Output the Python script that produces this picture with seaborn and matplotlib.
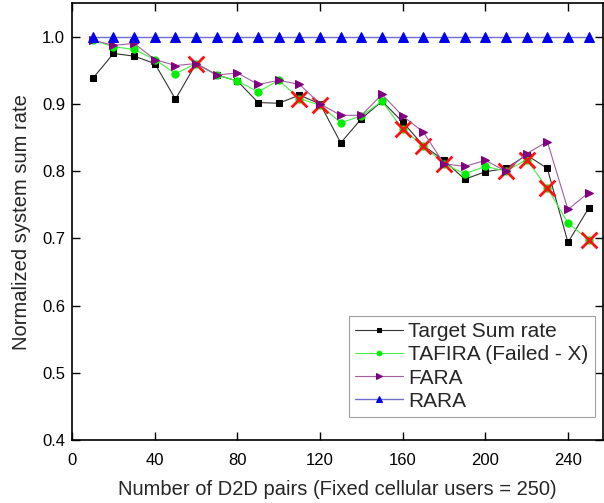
import numpy as np
import pandas as pd
import matplotlib
matplotlib.use("Agg")
import matplotlib.pyplot as plt
import seaborn as sns

pairs = [10, 20, 30, 40, 50, 60, 70, 80, 90, 100, 110, 120, 130, 140, 150,
         160, 170, 180, 190, 200, 210, 220, 230, 240, 250]
target = [0.938, 0.975, 0.971, 0.960, 0.907, 0.960, 0.943, 0.934, 0.902, 0.901,
          0.913, 0.900, 0.842, 0.878, 0.904, 0.873, 0.838, 0.816, 0.788, 0.799,
          0.804, 0.824, 0.804, 0.694, 0.745]
tafira = [0.995, 0.985, 0.981, 0.966, 0.945, 0.960, 0.943, 0.934, 0.918, 0.935,
          0.908, 0.898, 0.872, 0.882, 0.904, 0.862, 0.838, 0.811, 0.796, 0.807,
          0.800, 0.817, 0.775, 0.723, 0.698]
fara = [0.995, 0.987, 0.990, 0.966, 0.957, 0.960, 0.943, 0.946, 0.929, 0.935,
        0.929, 0.900, 0.883, 0.883, 0.914, 0.882, 0.858, 0.811, 0.807, 0.816,
        0.800, 0.826, 0.844, 0.743, 0.768]
rara = [1.0] * 25
failed_pairs = [60, 110, 120, 160, 170, 180, 210, 220, 230, 250]
failed_vals = [0.960, 0.908, 0.898, 0.862, 0.838, 0.811, 0.800, 0.817, 0.775, 0.698]

sns.set_style("ticks")
plt.rcParams['font.family'] = ['Liberation Sans', 'DejaVu Sans']

fig = plt.figure(figsize=(6.04, 5.03), dpi=100)
ax = fig.add_axes([0.1195, 0.125, 0.879, 0.869])

df = pd.DataFrame({"x": pairs, "target": target, "tafira": tafira,
                   "fara": fara, "rara": rara})
fdf = pd.DataFrame({"x": failed_pairs, "y": failed_vals})

sns.lineplot(data=df, x="x", y="target", ax=ax, color="#333333", lw=0.8,
             marker="s", markersize=5, markeredgecolor="black",
             markerfacecolor="black", label="Target Sum rate", zorder=3)
sns.lineplot(data=df, x="x", y="tafira", ax=ax, color="#44ee44", lw=0.8,
             marker="o", markersize=5.2, markeredgecolor="#00ee00",
             markerfacecolor="#00ee00", label="TAFIRA (Failed - X)", zorder=4)
sns.scatterplot(data=fdf, x="x", y="y", ax=ax, marker="x", s=130,
                color="#ff1010", linewidth=2.0, zorder=5, legend=False)
sns.lineplot(data=df, x="x", y="fara", ax=ax, color="#a060a0", lw=0.8,
             marker=">", markersize=6, markeredgecolor="#800080",
             markerfacecolor="#800080", label="FARA", zorder=6)
sns.lineplot(data=df, x="x", y="rara", ax=ax, color="#7070cc", lw=1.0,
             marker="^", markersize=6.5, markeredgecolor="#0000ee",
             markerfacecolor="#0000ee", label="RARA", zorder=7)

ax.set_xlim(0, 257)
ax.set_ylim(0.4, 1.05)
ax.set_xticks([0, 40, 80, 120, 160, 200, 240])
ax.set_yticks([0.4, 0.5, 0.6, 0.7, 0.8, 0.9, 1.0])
ax.set_yticklabels(["0.4", "0.5", "0.6", "0.7", "0.8", "0.9", "1.0"])
ax.tick_params(direction="in", top=True, right=True, length=6, width=1,
               labelsize=12, colors="black")
ax.tick_params(axis="x", pad=9)
ax.tick_params(axis="y", pad=5)
for s in ax.spines.values():
    s.set_linewidth(1.2)
    s.set_color("black")
ax.set_xlabel("Number of D2D pairs (Fixed cellular users = 250)", fontsize=14.5,
              labelpad=9)
ax.set_ylabel("Normalized system sum rate", fontsize=14.5, labelpad=8)

leg = ax.legend(loc="lower right", bbox_to_anchor=(0.984, 0.053), fontsize=15,
                frameon=True, fancybox=False, edgecolor="#888888",
                handlelength=2.3, handletextpad=0.25, borderpad=0.3,
                labelspacing=0.2, borderaxespad=0.0, markerscale=0.65)
leg.get_frame().set_linewidth(0.8)

fig.savefig("out.png", dpi=100)
